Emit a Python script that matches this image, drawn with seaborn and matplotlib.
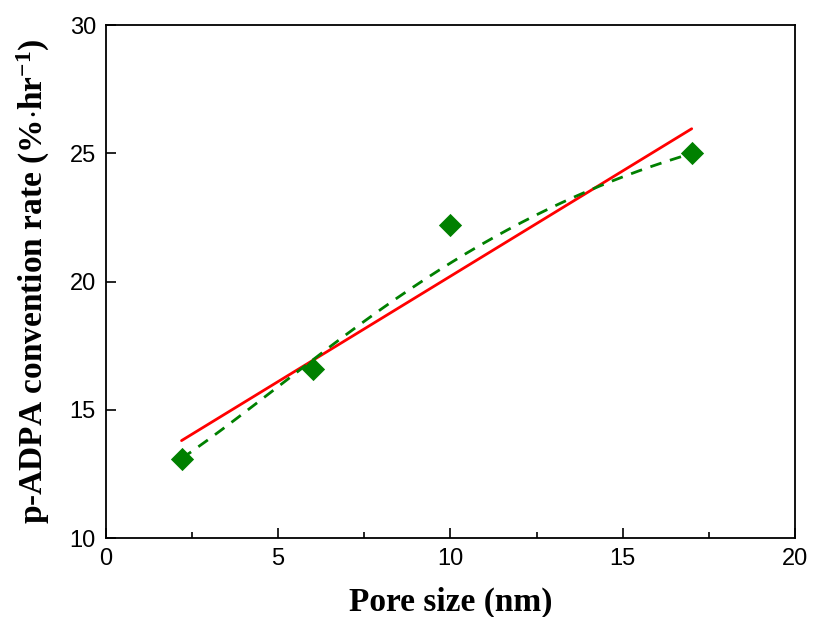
import numpy as np
import pandas as pd
import matplotlib
matplotlib.use("Agg")
import matplotlib.pyplot as plt
import seaborn as sns
from matplotlib.ticker import MultipleLocator
from math import comb

# values
pore_size = [2.2, 6.0, 10.0, 17.0]
conv_rate = [13.1, 16.6, 22.2, 25.0]

df = pd.DataFrame({"pore": pore_size, "rate": conv_rate})


def bezier_smooth(xs, ys, n=200):
    # B-spline style smoothing with the data points as control points
    xs = np.asarray(xs, float)
    ys = np.asarray(ys, float)
    k = len(xs) - 1
    t = np.linspace(0, 1, n)
    w = np.array([comb(k, i) * t**i * (1 - t)**(k - i) for i in range(k + 1)])
    return w.T @ xs, w.T @ ys


sns.set_style("ticks")
plt.rcParams["font.family"] = ["Liberation Sans", "DejaVu Sans"]
plt.rcParams["mathtext.fontset"] = "custom"
plt.rcParams["mathtext.rm"] = "Liberation Serif:bold"
plt.rcParams["mathtext.default"] = "rm"
for k in ["text.color", "axes.labelcolor", "xtick.color", "ytick.color"]:
    plt.rcParams[k] = "black"

fig = plt.figure(figsize=(8.13, 6.17), dpi=100)
ax = fig.add_axes([0.130, 0.128, 0.848, 0.831])

# linear fit (solid red)
sns.regplot(data=df, x="pore", y="rate", ax=ax, ci=None, scatter=False,
            line_kws={"color": "#ff0000", "lw": 2.0})

# smoothed curve (dashed green)
bx, by = bezier_smooth(pore_size, conv_rate)
smooth = pd.DataFrame({"pore": bx, "rate": by})
sns.lineplot(data=smooth, x="pore", y="rate", ax=ax, sort=False, color="#008000",
             lw=2.0, ls=(0, (4.2, 3.2)))

sns.scatterplot(data=df, x="pore", y="rate", ax=ax, marker="D", s=140,
                color="#008000", edgecolor="#008000", linewidth=0, zorder=5)

ax.set_xlim(0, 20)
ax.set_ylim(10, 30)
ax.xaxis.set_major_locator(MultipleLocator(5))
ax.xaxis.set_minor_locator(MultipleLocator(2.5))
ax.yaxis.set_major_locator(MultipleLocator(5))

ax.tick_params(axis="both", which="major", direction="in", length=7, width=1.2,
               labelsize=17, top=False, right=False, pad=7)
ax.tick_params(axis="x", which="minor", direction="in", length=4, width=1.2,
               top=False)

for sp in ax.spines.values():
    sp.set_linewidth(1.3)
    sp.set_color("black")

lab_font = {"family": "Liberation Serif", "weight": "bold", "size": 24}
ax.set_xlabel("Pore size (nm)", fontdict=lab_font, labelpad=12)
ax.set_ylabel(r"p-ADPA convention rate (%$\cdot$hr$^{-1}$)", fontdict=lab_font, labelpad=13)

fig.savefig("out.png", dpi=100)
